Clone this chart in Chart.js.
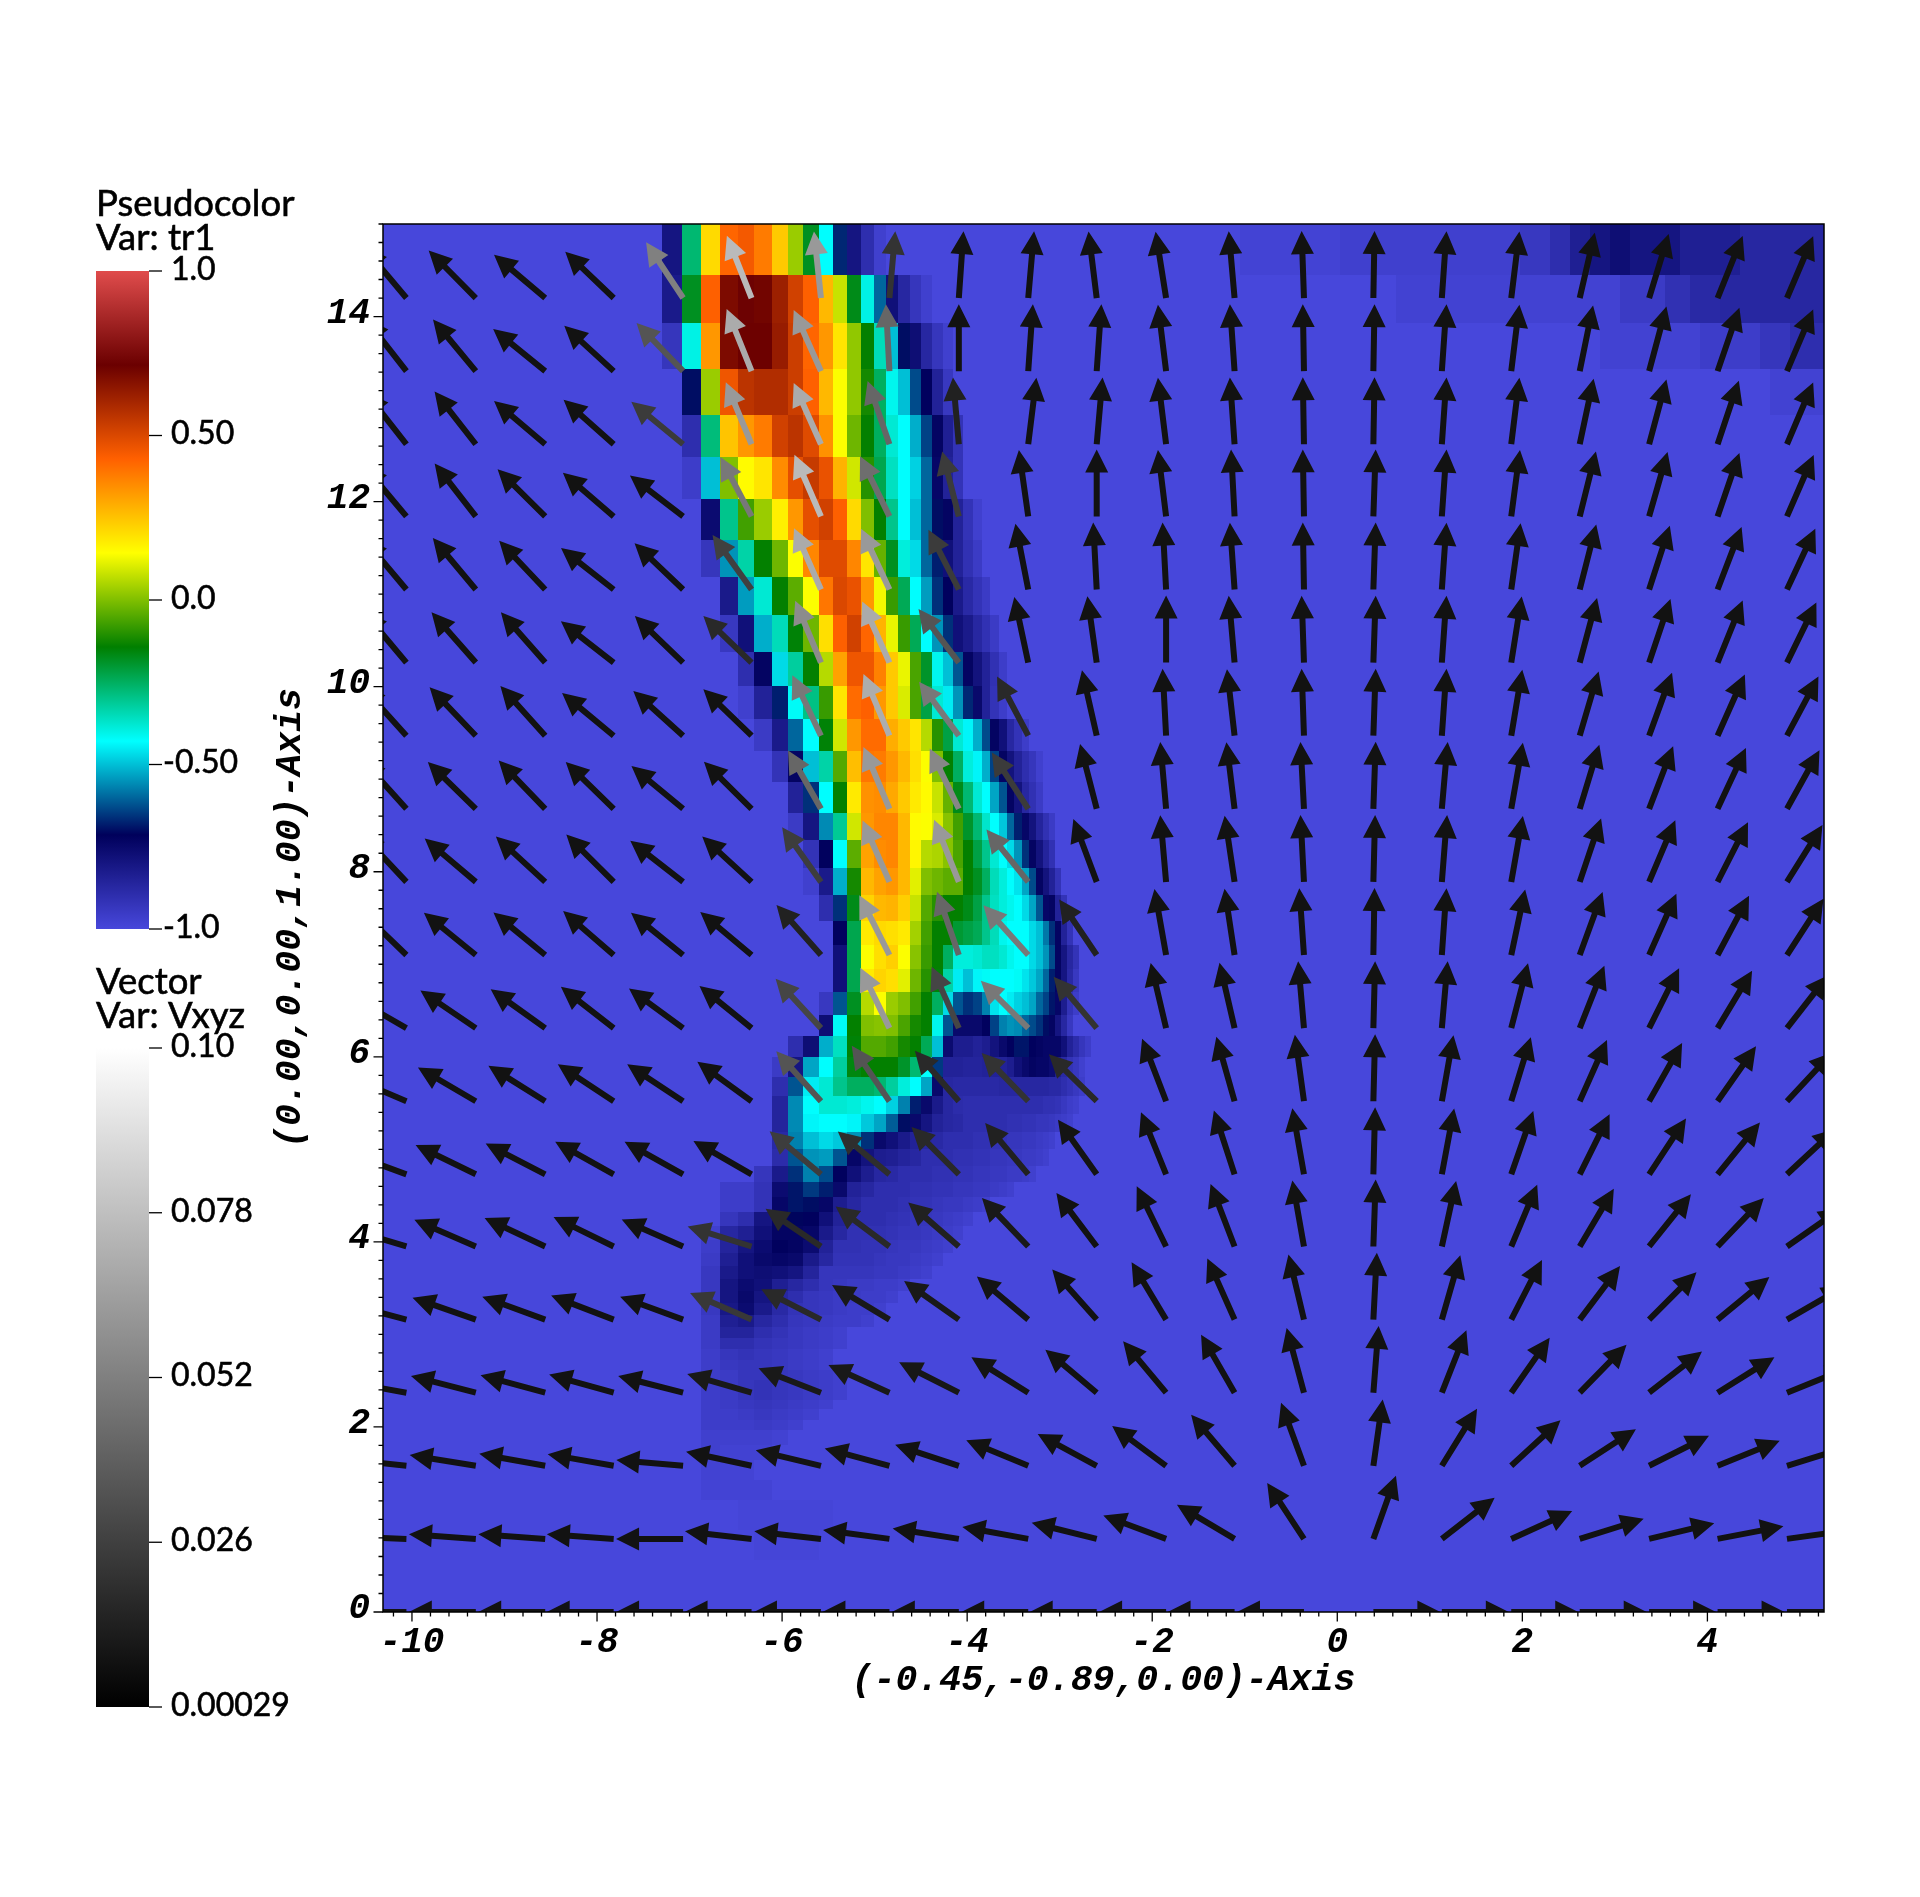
<!DOCTYPE html>
<html>
<head>
<meta charset="utf-8">
<title>tr1 / Vxyz</title>
<script src="https://cdn.jsdelivr.net/npm/chart.js@4/dist/chart.umd.min.js"></script>
<style>
  html, body { margin: 0; padding: 0; background: #fff; }
  canvas { display: block; }
</style>
</head>
<body>
<canvas id="plot" width="1920" height="1897"></canvas>
<script>
// axes
const xMin = -10.313, xMax = 5.26, yMin = 0, yMax = 15;
const xAxisTitle = "(-0.45,-0.89,0.00)-Axis";
const yAxisTitle = "(0.00,0.00,1.00)-Axis";

// legend
const tr1Labels = ["1.0", "0.50", "0.0", "-0.50", "-1.0"];
const vecLabels = ["0.10", "0.078", "0.052", "0.026", "0.00029"];
const cmapValues = [-1, -0.714, -0.429, -0.143, 0.143, 0.429, 0.714, 1];
const cmapColors = [[71,71,219],[0,0,91],[0,255,255],[0,127,0],[255,255,0],[255,96,0],[107,0,0],[224,76,76]];

// tr1 mesh, stretched
const xEdges = [-7.30,-7.08,-6.88,-6.67,-6.48,-6.30,-6.11,-5.94,-5.77,-5.60,-5.45,-5.30,-5.15,-5.01,-4.88,-4.75,-4.62,-4.50,-4.38,-4.26,-4.15,-4.05,-3.94,-3.84,-3.75,-3.66,-3.57,-3.49,-3.41,-3.33,-3.26,-3.18,-3.12,-3.05,-2.99,-2.92,-2.86,-2.79,-2.73,-2.66,-2.60,-2.53];
const yEdges = [15,14.45,13.93,13.43,12.94,12.48,12.03,11.59,11.18,10.77,10.38,10.01,9.65,9.30,8.97,8.64,8.34,8.04,7.75,7.47,7.21,6.95,6.70,6.45,6.23,6.00,5.78,5.58,5.38,5.19,5.00,4.82,4.65,4.49,4.32,4.17,4.02,3.88,3.74,3.60,3.47,3.34,3.21,3.08,2.96,2.84,2.72,2.62,2.51,2.40,2.29,2.19,2.08,1.97,1.81,1.64,1.43,1.21,0.89,0.56];

// first mesh column of each row, everything outside the lists is -1
const tr1Start = [0,0,0,1,1,1,2,2,3,3,4,4,5,6,7,7,8,8,9,10,10,10,9,9,7,6,6,6,6,6,6,5,3,3,3,2,2,2,2,2,2,2,2,2,2,2,2,2,2,2,2,2,2,2,2,2,2,4,5];
const tr1Rows = [
  [-.8,-.27,.21,.42,.45,.38,.24,.03,-.18,-.43,-.67,-.8,-.9,-.97],
  [-.82,-.18,.43,.68,.72,.7,.62,.52,.43,.27,.08,-.17,-.4,-.6,-.78,-.87,-.93,-.97],
  [-.93,-.4,.33,.68,.71,.71,.63,.53,.42,.33,.19,.02,-.14,-.35,-.5,-.7,-.77,-.87,-.93,-.97],
  [-.7,.03,.46,.56,.58,.58,.53,.43,.27,.14,.02,-.12,-.25,-.41,-.5,-.63,-.72,-.85,-.94],
  [-.9,-.28,.25,.33,.38,.52,.56,.49,.34,.14,-.02,-.14,-.25,-.38,-.43,-.52,-.64,-.73,-.84,-.92],
  [-.96,-.5,0,.15,.19,.35,.48,.54,.47,.28,.09,-.1,-.23,-.36,-.43,-.48,-.6,-.74,-.85,-.92],
  [-.76,-.3,-.07,.03,.17,.33,.48,.52,.43,.21,0,-.14,-.3,-.43,-.5,-.6,-.7,-.73,-.85,-.92,-.97],
  [-.93,-.55,-.33,-.14,-.02,.14,.36,.49,.49,.36,.19,-.03,-.18,-.39,-.47,-.6,-.68,-.78,-.85,-.91,-.95],
  [-.82,-.54,-.38,-.14,-.04,.14,.39,.5,.47,.33,.13,-.08,-.24,-.43,-.54,-.66,-.72,-.82,-.88,-.92,-.95],
  [-.94,-.78,-.52,-.35,-.15,-.02,.2,.43,.52,.42,.28,.12,-.08,-.24,-.43,-.55,-.66,-.78,-.82,-.87,-.91,-.95],
  [-.9,-.73,-.47,-.32,-.14,.06,.31,.46,.46,.37,.24,.12,-.06,-.19,-.41,-.5,-.62,-.73,-.79,-.85,-.91,-.96],
  [-.97,-.85,-.68,-.42,-.29,-.08,.19,.41,.43,.33,.24,.1,-.06,-.22,-.38,-.45,-.55,-.67,-.75,-.85,-.92,-.96],
  [-.95,-.82,-.6,-.43,-.15,.09,.33,.41,.41,.29,.24,.19,.06,-.1,-.22,-.38,-.44,-.52,-.63,-.73,-.78,-.87,-.92,-.96],
  [-.92,-.73,-.5,-.33,-.05,.26,.39,.38,.33,.27,.2,.14,0,-.14,-.25,-.39,-.44,-.52,-.64,-.73,-.79,-.85,-.9,-.93,-.97],
  [-.85,-.66,-.43,-.14,.18,.34,.35,.3,.24,.18,.15,.08,-.03,-.17,-.27,-.38,-.43,-.53,-.62,-.73,-.79,-.87,-.91,-.95],
  [-.95,-.8,-.56,-.31,.09,.33,.36,.36,.27,.15,.14,.1,.01,-.07,-.19,-.27,-.37,-.43,-.49,-.6,-.68,-.74,-.79,-.86,-.91,-.95],
  [-.92,-.72,-.43,-.04,.31,.35,.36,.27,.16,.06,.05,.01,-.06,-.14,-.22,-.3,-.38,-.43,-.47,-.55,-.66,-.73,-.79,-.86,-.91],
  [-.97,-.82,-.52,-.12,.27,.31,.33,.27,.11,0,-.02,-.04,-.04,-.14,-.18,-.25,-.35,-.39,-.43,-.46,-.53,-.63,-.73,-.79,-.85,-.92],
  [-.9,-.66,-.17,.22,.27,.28,.23,.08,-.05,-.1,-.14,-.14,-.17,-.22,-.3,-.36,-.39,-.41,-.43,-.47,-.53,-.62,-.74,-.73,-.85,-.92],
  [-.72,-.23,.18,.21,.2,.18,.04,-.07,-.14,-.14,-.2,-.22,-.24,-.3,-.35,-.41,-.43,-.43,-.43,-.47,-.5,-.58,-.66,-.73,-.85,-.92],
  [-.78,-.23,.14,.2,.23,.14,.01,-.08,-.14,-.25,-.39,-.39,-.38,-.36,-.36,-.38,-.41,-.43,-.43,-.47,-.5,-.55,-.63,-.73,-.8,-.87,-.92],
  [-.78,-.23,.18,.22,.2,.11,-.02,-.1,-.15,-.33,-.45,-.5,-.44,-.42,-.43,-.43,-.43,-.42,-.46,-.49,-.53,-.6,-.68,-.73,-.8,-.88,-.94],
  [-.94,-.62,-.18,.06,.14,.03,0,-.07,-.14,-.25,-.47,-.62,-.66,-.64,-.57,-.46,-.43,-.45,-.48,-.5,-.53,-.6,-.64,-.69,-.74,-.83,-.92,-.96],
  [-.77,-.42,-.14,0,.01,0,-.06,-.12,-.14,-.41,-.62,-.75,-.75,-.75,-.72,-.64,-.57,-.55,-.56,-.6,-.63,-.66,-.7,-.73,-.8,-.87,-.94],
  [-.9,-.77,-.52,-.36,-.15,-.05,-.05,-.07,-.12,-.14,-.24,-.5,-.76,-.83,-.83,-.85,-.83,-.79,-.75,-.72,-.69,-.69,-.72,-.73,-.74,-.74,-.74,-.78,-.85,-.89,-.93,-.96],
  [-.95,-.8,-.53,-.43,-.32,-.16,-.14,-.14,-.14,-.19,-.27,-.43,-.65,-.85,-.85,-.86,-.86,-.85,-.85,-.85,-.83,-.78,-.75,-.73,-.74,-.74,-.76,-.84,-.88,-.92,-.94,-.97],
  [-.9,-.62,-.45,-.38,-.3,-.25,-.25,-.27,-.32,-.39,-.43,-.53,-.75,-.87,-.88,-.88,-.88,-.88,-.88,-.87,-.87,-.87,-.87,-.87,-.87,-.87,-.88,-.88,-.9,-.92,-.94,-.96],
  [-.86,-.56,-.43,-.38,-.38,-.39,-.41,-.43,-.48,-.57,-.68,-.75,-.82,-.87,-.89,-.9,-.9,-.9,-.9,-.9,-.9,-.9,-.9,-.9,-.9,-.91,-.91,-.92,-.94,-.96,-.97],
  [-.86,-.56,-.44,-.43,-.43,-.44,-.49,-.53,-.61,-.7,-.75,-.8,-.85,-.87,-.88,-.9,-.9,-.9,-.9,-.9,-.91,-.91,-.92,-.92,-.93,-.93,-.94,-.95,-.96,-.97],
  [-.88,-.57,-.5,-.47,-.49,-.55,-.66,-.75,-.78,-.82,-.85,-.87,-.88,-.9,-.9,-.9,-.91,-.91,-.92,-.92,-.93,-.93,-.94,-.94,-.95,-.96,-.97],
  [-.89,-.62,-.55,-.54,-.62,-.74,-.79,-.83,-.84,-.86,-.87,-.9,-.9,-.9,-.91,-.91,-.92,-.92,-.93,-.93,-.94,-.94,-.95,-.95,-.96,-.97],
  [-.93,-.82,-.66,-.57,-.63,-.72,-.78,-.83,-.87,-.88,-.9,-.9,-.9,-.91,-.91,-.92,-.92,-.93,-.93,-.94,-.94,-.95,-.95,-.96,-.97],
  [-.96,-.96,-.92,-.76,-.69,-.65,-.68,-.75,-.85,-.87,-.9,-.9,-.9,-.91,-.91,-.92,-.92,-.93,-.93,-.94,-.94,-.95,-.96,-.97],
  [-.96,-.96,-.92,-.74,-.69,-.7,-.74,-.83,-.87,-.9,-.9,-.9,-.91,-.92,-.92,-.93,-.94,-.94,-.95,-.96,-.97],
  [-.93,-.9,-.8,-.73,-.71,-.72,-.78,-.85,-.9,-.9,-.9,-.91,-.92,-.93,-.93,-.94,-.95,-.96,-.97],
  [-.97,-.87,-.84,-.78,-.73,-.73,-.74,-.82,-.87,-.91,-.91,-.91,-.92,-.93,-.93,-.94,-.95,-.96,-.97],
  [-.96,-.86,-.8,-.76,-.72,-.73,-.76,-.85,-.91,-.91,-.92,-.92,-.93,-.94,-.94,-.95,-.96,-.97],
  [-.95,-.84,-.78,-.75,-.74,-.75,-.82,-.87,-.92,-.92,-.92,-.93,-.94,-.94,-.95,-.96,-.97],
  [-.94,-.82,-.78,-.77,-.78,-.8,-.86,-.93,-.93,-.93,-.93,-.94,-.94,-.95,-.96,-.97],
  [-.94,-.8,-.76,-.78,-.84,-.87,-.9,-.93,-.94,-.95,-.95,-.96,-.96,-.97],
  [-.94,-.8,-.75,-.8,-.87,-.9,-.93,-.94,-.95,-.95,-.96,-.96,-.97],
  [-.94,-.81,-.76,-.82,-.88,-.92,-.93,-.94,-.95,-.96,-.96,-.97],
  [-.95,-.84,-.82,-.87,-.9,-.93,-.94,-.95,-.96,-.96,-.97],
  [-.95,-.86,-.86,-.9,-.92,-.94,-.95,-.96,-.97],
  [-.95,-.9,-.9,-.92,-.93,-.94,-.95,-.96,-.97],
  [-.96,-.93,-.92,-.93,-.94,-.95,-.96,-.97],
  [-.96,-.94,-.93,-.93,-.94,-.95,-.96,-.97],
  [-.96,-.95,-.93,-.93,-.93,-.94,-.95,-.96,-.97],
  [-.96,-.95,-.93,-.92,-.93,-.94,-.95,-.96,-.97],
  [-.96,-.95,-.93,-.92,-.93,-.94,-.95,-.96,-.97],
  [-.96,-.95,-.94,-.93,-.94,-.95,-.96,-.97],
  [-.96,-.96,-.95,-.94,-.95,-.96,-.97],
  [-.96,-.96,-.96,-.95,-.96,-.97],
  [-.97,-.97,-.97,-.97,-.98],
  [-.97,-.98,-.98,-.98],
  [-.98,-.985,-.985],
  [-.985,-.985,-.985,-.985],
  [-.99,-.99,-.99,-.99,-.99,-.99],
  [-.99,-.99,-.99,-.99]
];

// darker strips along the top right corner
const tintX0 = [-1.05,0.03,1.98,2.30,2.52,2.73,2.95,3.16,3.70,4.35,0.63,3.06,3.54,3.81,4.14,2.84,3.92,4.57,4.89,4.68];
const tintX1 = [0.03,1.98,2.30,2.52,2.73,2.95,3.16,3.70,4.35,5.26,3.06,3.54,3.81,4.14,5.26,3.92,4.57,4.89,5.26,5.26];
const tintRow = [0,0,0,0,0,0,0,0,0,0,1,1,1,1,1,2,2,2,2,3];
const tintV = [-.985,-.97,-.94,-.9,-.84,-.8,-.77,-.8,-.84,-.87,-.98,-.95,-.91,-.88,-.87,-.98,-.96,-.93,-.9,-.98];

// Vxyz glyphs: tail positions, direction in degrees, magnitude
const vecX = [-10.06,-9.31,-8.56,-7.82,-7.07,-6.33,-5.58,-4.84,-4.09,-3.34,-2.60,-1.85,-1.11,-0.36,0.39,1.13,1.88,2.62,3.37,4.11,4.86];
const vecY = [0,0.79,1.58,2.37,3.16,3.95,4.73,5.52,6.31,7.10,7.89,8.68,9.47,10.26,11.05,11.84,12.62,13.41,14.20];
const vecAngle = [
  [180,180,180,180,180,180,180,180,180,180,180,180,180,180,0,0,0,0,0,0,0],
  [178,176,176,176,180,173.5,173.5,172.4,171,169.7,166,159.5,149.3,123.3,70.3,38,24.5,17.4,13.5,10.8,8],
  [174,170.8,169.7,170,175,167.8,166.6,165,161.8,157.6,151.7,143.6,130.4,110,82,58.3,42.7,33,26.7,22,17],
  [170,165.5,164.8,164.3,165.6,163.8,158.7,155.6,153,148,140,129.9,120,105,85.5,68.5,55,45.7,37.9,32,22],
  [165,160.9,160,159,160,156.6,153,149,144.8,140,131.6,121,114,103.4,87,74,62.7,53,45,39.4,30],
  [163,156.5,154.8,153.8,156.3,162.6,145.7,143.3,139,133.7,127,116,111,100,88,77.7,67.2,59.4,51.4,46.4,35],
  [160,154,152.7,150.8,150.8,150.2,140,140.4,135,130,125.3,112,108,100,88.5,79.4,70.8,63.5,56.6,50.8,43],
  [157,149.7,148,146.5,146.5,144,131.8,124.2,131,134,135.6,111,105.8,97.8,88.5,80,73,66,60.5,55,47],
  [150,145.8,144.5,142,143.8,141,132.6,115.8,113.9,135,130,103.3,103,95,88.5,85,75.5,68.4,63.4,59,52],
  [136,140.8,140.6,139,141,140,131.6,116.7,109,132,124,100,98.6,94,89,86,78,70,66,62,57],
  [133,139.7,137.4,135,142,137.4,125.4,113.6,111.7,128.6,110.4,95,98.5,93,88.5,85.5,80,71.4,67,63,58],
  [132,135.7,134,135.7,140.4,135.3,119.4,112.8,115.7,122.9,104.4,95,97,93,88,85,80,73,69,65,61],
  [132,133.6,132,140.4,138,136,115.3,112.8,126.4,117.7,102.7,93,96.5,92,88,86,80.5,73.6,70,66,62],
  [130,131.4,131.4,142,136,136,112.6,114,127,102,98,90,95,92,88,86,81,75,71.4,68,64],
  [130,129.9,133.4,141.8,136.4,125.6,113.7,115,117,101,93,93,94,91,88,86,82,75.7,72,69,65],
  [130,127.9,135.3,139.3,142.5,117.7,113.3,116,104.4,98,90,97,93,91,88,86,82.5,76,74,71,66.5],
  [128,128,139.8,138.4,140.6,112.6,114,109,95,83,85,97,94,91,89,86,83,78,75,71.5,67],
  [128,129.7,141,137.5,134,111.8,114,93,90,86,86,97,94,91,89,86,83,78.5,75,71,67],
  [130,134.7,139.8,136.3,123.5,111.6,96,85,86,85,97,99,95,92,89,86,83,77,73,68,67]
];
const vecMag = [
  [.007,.007,.007,.007,.007,.007,.007,.007,.007,.007,.007,.007,.007,.007,.007,.007,.007,.007,.007,.007,.007],
  [.007,.007,.007,.007,.007,.007,.007,.007,.007,.007,.007,.007,.007,.007,.007,.007,.007,.007,.007,.007,.007],
  [.007,.007,.007,.007,.007,.007,.008,.008,.007,.007,.007,.007,.007,.007,.007,.007,.007,.007,.007,.007,.007],
  [.007,.007,.007,.007,.007,.01,.01,.01,.009,.008,.007,.007,.007,.007,.007,.007,.007,.007,.007,.007,.007],
  [.007,.007,.007,.007,.007,.022,.016,.01,.01,.008,.007,.007,.007,.007,.007,.007,.007,.007,.007,.007,.007],
  [.007,.007,.007,.007,.007,.02,.016,.016,.013,.01,.007,.007,.007,.007,.007,.007,.007,.007,.007,.007,.007],
  [.007,.007,.007,.007,.007,.007,.024,.018,.016,.013,.008,.007,.007,.007,.007,.007,.007,.007,.007,.007,.007],
  [.007,.007,.007,.007,.007,.007,.033,.033,.016,.02,.016,.007,.007,.007,.007,.007,.007,.007,.007,.007,.007],
  [.007,.007,.007,.007,.007,.007,.027,.06,.027,.047,.02,.007,.007,.007,.007,.007,.007,.007,.007,.007,.007],
  [.007,.007,.007,.007,.007,.007,.013,.06,.04,.047,.013,.007,.007,.007,.007,.007,.007,.007,.007,.007,.007],
  [.007,.007,.007,.007,.007,.007,.024,.06,.06,.04,.007,.007,.007,.007,.007,.007,.007,.007,.007,.007,.007],
  [.007,.007,.007,.007,.007,.007,.04,.06,.053,.023,.007,.007,.007,.007,.007,.007,.007,.007,.007,.007,.007],
  [.007,.007,.007,.007,.007,.007,.047,.068,.047,.016,.007,.007,.007,.007,.007,.007,.007,.007,.007,.007,.007],
  [.007,.007,.007,.007,.007,.016,.055,.067,.033,.007,.007,.007,.007,.007,.007,.007,.007,.007,.007,.007,.007],
  [.007,.007,.007,.007,.007,.025,.067,.06,.023,.007,.007,.007,.007,.007,.007,.007,.007,.007,.007,.007,.007],
  [.007,.007,.007,.007,.007,.047,.073,.043,.023,.007,.007,.007,.007,.007,.007,.007,.007,.007,.007,.007,.007],
  [.007,.007,.007,.007,.023,.06,.067,.04,.013,.007,.007,.007,.007,.007,.007,.007,.007,.007,.007,.007,.007],
  [.007,.007,.007,.007,.033,.067,.06,.04,.007,.007,.007,.007,.007,.007,.007,.007,.007,.007,.007,.007,.007],
  [.007,.007,.007,.007,.05,.073,.06,.02,.007,.007,.007,.007,.007,.007,.007,.007,.007,.007,.007,.007,.007]
];

function tr1Color(v) {
  for (let i = 1; i < cmapValues.length; i++) {
    if (v <= cmapValues[i]) {
      const t = (v - cmapValues[i - 1]) / (cmapValues[i] - cmapValues[i - 1]);
      const a = cmapColors[i - 1], b = cmapColors[i];
      return `rgb(${a.map((c, n) => Math.round(c + (b[n] - c) * t)).join(",")})`;
    }
  }
  return "rgb(224,76,76)";
}

// build the points for the chart
const cellPoints = [];
tr1Rows.forEach((row, r) => {
  row.forEach((v, n) => {
    const c = tr1Start[r] + n;
    cellPoints.push({ x: (xEdges[c] + xEdges[c + 1]) / 2, y: (yEdges[r] + yEdges[r + 1]) / 2,
      x0: xEdges[c], x1: xEdges[c + 1], y0: yEdges[r + 1], y1: yEdges[r], v });
  });
});
tintV.forEach((v, n) => {
  const r = tintRow[n];
  cellPoints.push({ x: (tintX0[n] + tintX1[n]) / 2, y: (yEdges[r] + yEdges[r + 1]) / 2,
    x0: tintX0[n], x1: tintX1[n], y0: yEdges[r + 1], y1: yEdges[r], v });
});

const vecPoints = [];
vecAngle.forEach((row, k) => {
  row.forEach((angle, i) => {
    vecPoints.push({ x: vecX[i], y: vecY[k], angle, mag: vecMag[k][i] });
  });
});

const fieldPlugin = {
  id: "field",
  beforeDatasetsDraw(chart) {
    const { ctx, chartArea: a, scales: { x, y } } = chart;
    ctx.save();
    ctx.fillStyle = tr1Color(-1);
    ctx.fillRect(a.left, a.top, a.right - a.left, a.bottom - a.top);
    chart.data.datasets[0].data.forEach(p => {
      const l = Math.round(x.getPixelForValue(p.x0)), r = Math.round(x.getPixelForValue(p.x1));
      const t = Math.round(y.getPixelForValue(p.y1)), b = Math.round(y.getPixelForValue(p.y0));
      ctx.fillStyle = tr1Color(p.v);
      ctx.fillRect(l, t, r - l, b - t);
    });
    ctx.restore();
  },
  afterDatasetsDraw(chart) {
    const { ctx, chartArea: a, scales: { x, y } } = chart;
    ctx.save();
    ctx.beginPath();
    ctx.rect(a.left, a.top, a.right - a.left, a.bottom - a.top);
    ctx.clip();
    chart.data.datasets[1].data.forEach(p => {
      const g = Math.round(p.mag / 0.1 * 255);
      ctx.save();
      ctx.translate(x.getPixelForValue(p.x), y.getPixelForValue(p.y));
      ctx.rotate(-p.angle * Math.PI / 180);
      ctx.fillStyle = `rgb(${g},${g},${g})`;
      ctx.beginPath();
      ctx.moveTo(0, -3);
      ctx.lineTo(44, -3);
      ctx.lineTo(44, -11.5);
      ctx.lineTo(67, 0);
      ctx.lineTo(44, 11.5);
      ctx.lineTo(44, 3);
      ctx.lineTo(0, 3);
      ctx.closePath();
      ctx.fill();
      ctx.restore();
    });
    ctx.restore();
  },
  afterDraw(chart) {
    const { ctx, chartArea: a, scales: { x, y } } = chart;
    ctx.save();
    // frame and ticks
    ctx.strokeStyle = "#000";
    ctx.lineWidth = 1.5;
    ctx.strokeRect(a.left, a.top, a.right - a.left, a.bottom - a.top);
    ctx.lineWidth = 1.3;
    ctx.beginPath();
    x.ticks.forEach(t => {
      const px = x.getPixelForValue(t.value), len = isMajor(t.value) ? 9.5 : 4.5;
      ctx.moveTo(px, a.bottom);
      ctx.lineTo(px, a.bottom + len);
    });
    y.ticks.forEach(t => {
      const py = y.getPixelForValue(t.value), len = isMajor(t.value) ? 9.5 : 4.5;
      ctx.moveTo(a.left, py);
      ctx.lineTo(a.left - len, py);
    });
    ctx.stroke();

    // legends
    drawLegendBar(ctx, 271, 929, tr1Labels, "tr1");
    drawLegendBar(ctx, 1048, 1707, vecLabels, "vec");
    ctx.font = "36.5px Lato";
    legendText(ctx, "Pseudocolor", 96, 204);
    legendText(ctx, "Var: tr1", 96, 238);
    legendText(ctx, "Vector", 96, 982);
    legendText(ctx, "Var: Vxyz", 96, 1016);
    ctx.restore();
  }
};

function legendText(ctx, text, x, y) {
  ctx.fillStyle = "#000";
  ctx.strokeStyle = "#000";
  ctx.lineWidth = 0.6;
  ctx.textBaseline = "middle";
  ctx.textAlign = "left";
  ctx.fillText(text, x, y);
  ctx.strokeText(text, x, y);
}

function drawLegendBar(ctx, top, bottom, labels, kind) {
  const g = ctx.createLinearGradient(0, bottom, 0, top);
  if (kind === "tr1") {
    cmapValues.forEach((v, i) => g.addColorStop((v + 1) / 2, `rgb(${cmapColors[i].join(",")})`));
  } else {
    g.addColorStop(0, "#000");
    g.addColorStop(1, "#fff");
  }
  ctx.fillStyle = g;
  ctx.fillRect(96, top, 53, bottom - top);
  ctx.font = "32px Lato";
  labels.forEach((label, i) => {
    const py = top + (bottom - top) * i / (labels.length - 1);
    ctx.strokeStyle = "#000";
    ctx.lineWidth = 1.3;
    ctx.beginPath();
    ctx.moveTo(149, py);
    ctx.lineTo(162, py);
    ctx.stroke();
    legendText(ctx, label, label[0] === "-" ? 163 : 171, py - 1.5);
  });
}

function isMajor(v) {
  return Math.abs(v / 2 - Math.round(v / 2)) < 1e-6;
}

const axisTitleFont = { family: "Liberation Mono", size: 36.5, style: "italic", weight: "bold" };
const axisTickFont = { family: "Liberation Mono", size: 36, style: "italic", weight: "bold" };

new Chart(document.getElementById("plot"), {
  type: "scatter",
  data: {
    datasets: [
      { label: "tr1", data: cellPoints, pointRadius: 0, pointHoverRadius: 0 },
      { label: "Vxyz", data: vecPoints, pointRadius: 0, pointHoverRadius: 0 }
    ]
  },
  plugins: [fieldPlugin],
  options: {
    responsive: false,
    animation: false,
    events: [],
    layout: { padding: { left: 269, right: 96, top: 224, bottom: 194 } },
    plugins: { legend: { display: false }, tooltip: { enabled: false } },
    scales: {
      x: {
        type: "linear",
        min: xMin,
        max: xMax,
        afterFit(scale) { scale.height = 91; },
        grid: { display: false, drawTicks: false },
        border: { display: false },
        title: { display: true, text: xAxisTitle, color: "#000", font: axisTitleFont, padding: 0 },
        ticks: {
          stepSize: 0.2,
          includeBounds: false,
          autoSkip: false,
          maxRotation: 0,
          color: "#000",
          font: axisTickFont,
          padding: 9,
          callback: v => (isMajor(v) ? String(Math.round(v)) : "")
        }
      },
      y: {
        type: "linear",
        min: yMin,
        max: yMax,
        afterFit(scale) { scale.width = 114; },
        grid: { display: false, drawTicks: false },
        border: { display: false },
        title: { display: true, text: yAxisTitle, color: "#000", font: axisTitleFont, padding: 0 },
        ticks: {
          stepSize: 0.2,
          includeBounds: false,
          autoSkip: false,
          color: "#000",
          font: axisTickFont,
          padding: 13,
          labelOffset: -3,
          callback: v => (isMajor(v) ? String(Math.round(v)) : "")
        }
      }
    }
  }
});
</script>
</body>
</html>
